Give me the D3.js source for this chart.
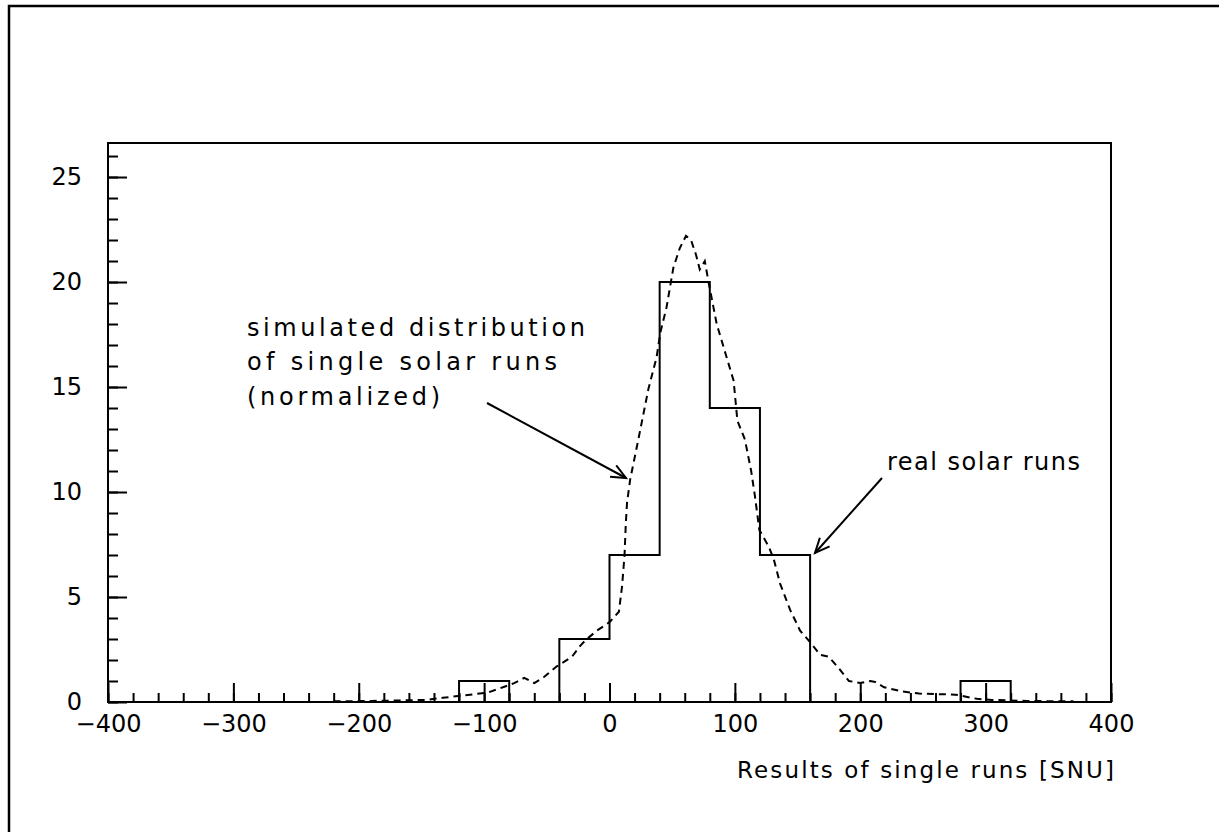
<!DOCTYPE html>
<html><head><meta charset="utf-8">
<script src="https://cdn.jsdelivr.net/npm/d3@7"></script>
<style>body{margin:0;background:#fff} svg{display:block}</style>
</head><body>
<svg id="c" width="1219" height="832"></svg>
<script>
// ---- data ----
const binEdges = [-400,-360,-320,-280,-240,-200,-160,-120,-80,-40,0,40,80,120,160,200,240,280,320,360,400];
const realCounts = [0,0,0,0,0,0,0,1,0,3,7,20,14,7,0,0,0,1,0,0];
const simX = [-220,-190,-160,-146,-133,-118,-97,-85,-76,-68,-60,-52,-42,-30,-23,-19,-10,0,7.5,10,12,13,14,16.5,23,31,37.5,40.6,45.5,51,56,61,65,69,72,76,79,85.5,92.5,99,102,108,113,116,119.5,127,131,136,144,152,160,168,175,183,191,200,208,212,219,234,247,276,293,305,333,370];
const simY = [0.03,0.05,0.08,0.1,0.2,0.3,0.45,0.7,0.9,1.15,0.9,1.2,1.7,2.15,2.7,2.95,3.4,3.8,4.3,5.5,7.0,8.5,9.5,10.6,12.5,14.9,16.4,17.6,18.8,20.7,21.6,22.2,22.0,21.3,20.6,21.0,20.0,18.0,16.6,15.3,13.4,12.5,11.0,9.8,8.2,7.4,6.8,5.65,4.4,3.4,2.85,2.25,2.15,1.6,1.0,0.9,1.0,0.95,0.7,0.5,0.4,0.35,0.15,0.1,0.05,0.03];
const xMajorTicks = [-400,-300,-200,-100,0,100,200,300,400];
const xMinorTicks = d3.range(-400,401,20);
const yMajorTicks = [0,5,10,15,20,25];
const yMinorTicks = d3.range(0,27,1);
const xTitle = "Results of single runs [SNU]";
const simLabel = ["simulated distribution","of single solar runs","(normalized)"];
const realLabel = "real solar runs";

// ---- layout ----
const svg = d3.select("#c");
const font = "DejaVu Sans, sans-serif";
const x = d3.scaleLinear().domain([-400,400]).range([108,1111]);
const y = d3.scaleLinear().domain([0,26.62]).range([702,143]);

// outer frame (partial)
svg.append("path").attr("d","M9,832V6H1219").attr("fill","none").attr("stroke","#000").attr("stroke-width",2.5);

const fmt = d => d < 0 ? "\u2212" + Math.abs(d) : String(d);

// x axis minor ticks
svg.append("g").attr("transform",`translate(0,${y(0)})`)
  .call(d3.axisBottom(x).tickValues(xMinorTicks).tickSize(-9).tickFormat(""))
  .call(g=>g.select(".domain").remove())
  .call(g=>g.selectAll("line").attr("stroke","#000").attr("stroke-width",2));
// x axis major
svg.append("g").attr("transform",`translate(0,${y(0)})`)
  .call(d3.axisBottom(x).tickValues(xMajorTicks).tickSize(-19).tickPadding(13).tickFormat(fmt))
  .call(g=>g.select(".domain").remove())
  .call(g=>g.selectAll("line").attr("stroke","#000").attr("stroke-width",2))
  .call(g=>g.selectAll("text").attr("font-family",font).attr("font-size",24).attr("fill","#000"));
// y axis minor
svg.append("g").attr("transform",`translate(${x(-400)},0)`)
  .call(d3.axisLeft(y).tickValues(yMinorTicks).tickSize(-10).tickFormat(""))
  .call(g=>g.select(".domain").remove())
  .call(g=>g.selectAll("line").attr("stroke","#000").attr("stroke-width",2));
// y axis major
svg.append("g").attr("transform",`translate(${x(-400)},0)`)
  .call(d3.axisLeft(y).tickValues(yMajorTicks).tickSize(-19).tickPadding(26).tickFormat(fmt))
  .call(g=>g.select(".domain").remove())
  .call(g=>g.selectAll("line").attr("stroke","#000").attr("stroke-width",2))
  .call(g=>g.selectAll("text").attr("font-family",font).attr("font-size",24).attr("fill","#000"));

// plot frame
svg.append("rect").attr("x",x(-400)).attr("y",y(26.62)).attr("width",x(400)-x(-400)).attr("height",y(0)-y(26.62))
  .attr("fill","none").attr("stroke","#000").attr("stroke-width",2);

// histogram step outline
const pts = [[binEdges[0],0]];
realCounts.forEach((c,i)=>{ pts.push([binEdges[i],c]); pts.push([binEdges[i+1],c]); });
pts.push([binEdges[binEdges.length-1],0]);
svg.append("path").datum(pts)
  .attr("d", d3.line().x(d=>x(d[0])).y(d=>y(d[1])))
  .attr("fill","none").attr("stroke","#000").attr("stroke-width",2);

// simulated curve
const sim = simX.map((v,i)=>[v,simY[i]]);
svg.append("path").datum(sim)
  .attr("d", d3.line().x(d=>x(d[0])).y(d=>y(d[1])))
  .attr("fill","none").attr("stroke","#000").attr("stroke-width",2).attr("stroke-dasharray","7,5");

// annotations
function addText(t, tx, ty, w, size, anchor){
  svg.append("text").attr("x",tx).attr("y",ty).attr("font-family",font).attr("font-size",size)
    .attr("text-anchor",anchor||"start").attr("fill","#000")
    .attr("textLength",w).attr("lengthAdjust","spacing").text(t);
}
addText(simLabel[0],247,336,338,24);
addText(simLabel[1],247,370,310,24);
addText(simLabel[2],247,405,193,24);
addText(realLabel,887,470,193,24);
addText(xTitle,1114,778,377,23,"end");

function arrow(x1,y1,x2,y2){
  svg.append("line").attr("x1",x1).attr("y1",y1).attr("x2",x2).attr("y2",y2).attr("stroke","#000").attr("stroke-width",2);
  const a = Math.atan2(y2-y1,x2-x1), L=16, s=0.42;
  const p = `M${x2-L*Math.cos(a-s)},${y2-L*Math.sin(a-s)}L${x2},${y2}L${x2-L*Math.cos(a+s)},${y2-L*Math.sin(a+s)}`;
  svg.append("path").attr("d",p).attr("fill","none").attr("stroke","#000").attr("stroke-width",2);
}
arrow(487,403,626,478);
arrow(882,478,815,553);
</script>
</body></html>
